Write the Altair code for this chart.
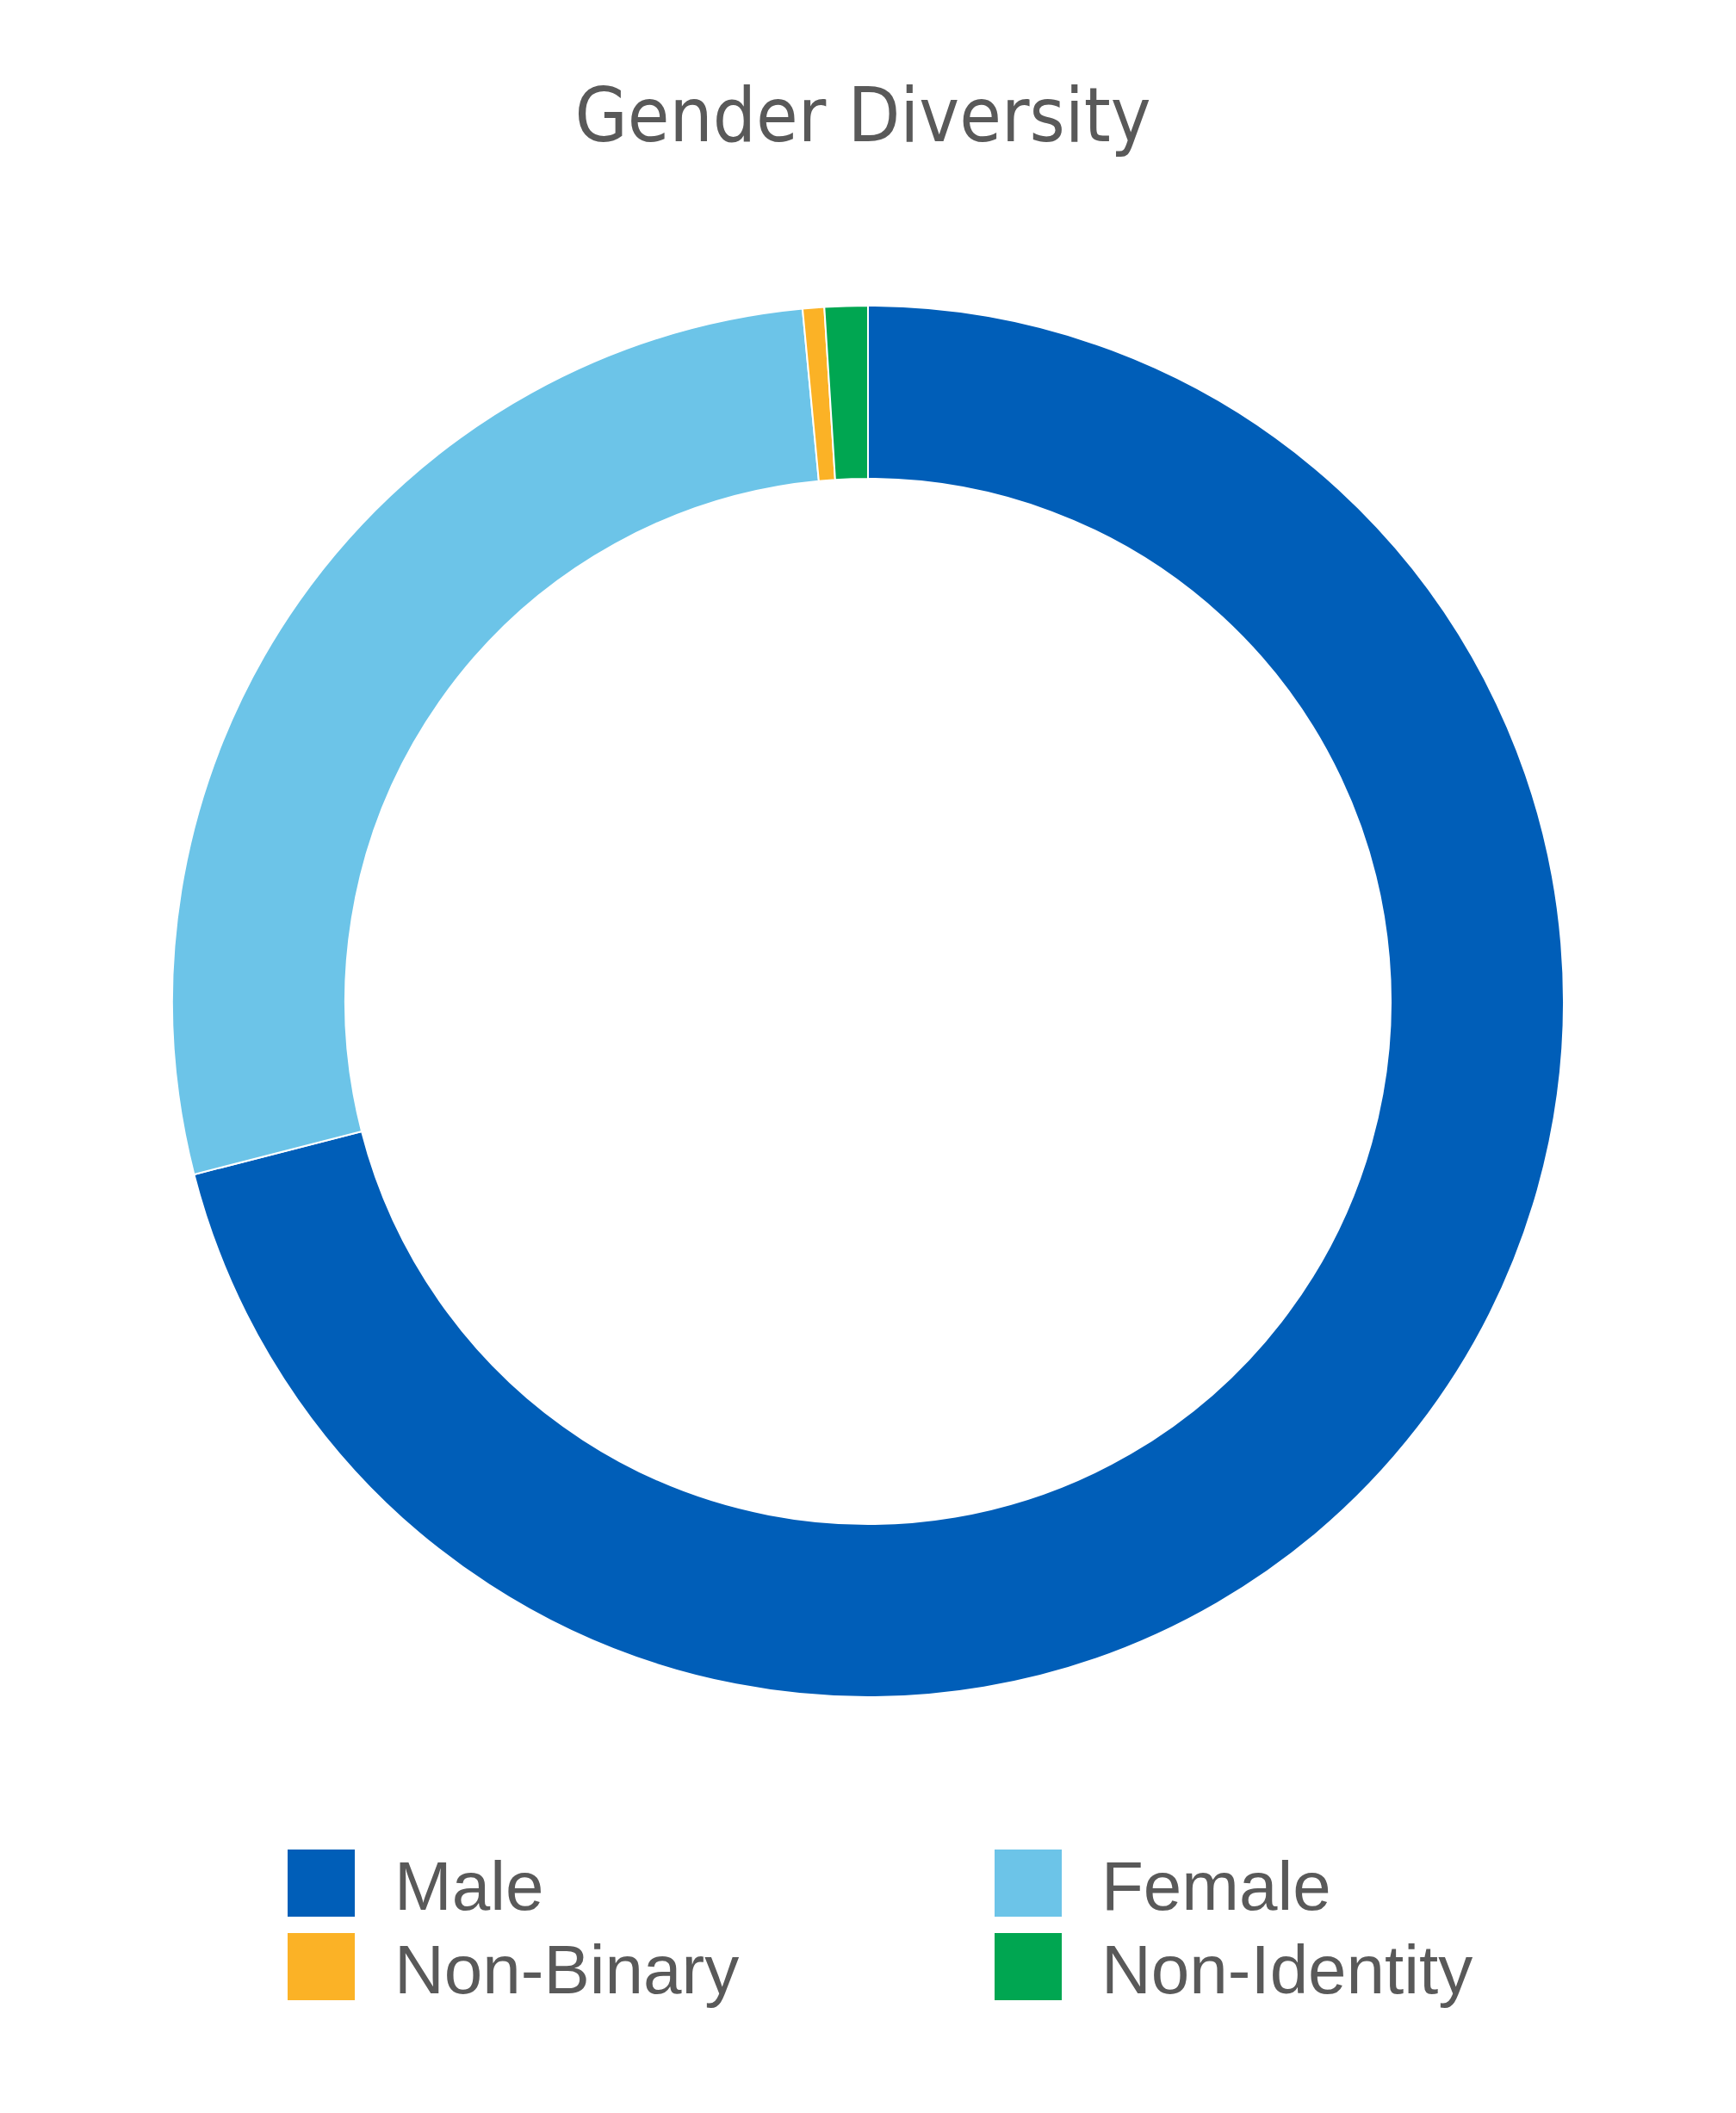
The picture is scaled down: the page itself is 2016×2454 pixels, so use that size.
import altair as alt
import pandas as pd

categories = ["Male", "Female", "Non-Binary", "Non-Identity"]
shares = [71.0, 27.5, 0.5, 1.0]
colors = ["#005EB8", "#6CC4E8", "#FBB226", "#00A651"]
title_text = "Gender Diversity"

df = pd.DataFrame({"gender": categories, "share": shares, "idx": list(range(len(categories)))})

W, H = 2000, 2438
CX, CY = 1000, 1155

arc = alt.Chart(df).mark_arc(
    outerRadius=808, innerRadius=607, stroke="white", strokeWidth=2,
    x=CX, y=CY
).encode(
    theta=alt.Theta("share:Q", stack=True),
    order=alt.Order("idx:Q"),
    color=alt.Color(
        "gender:N",
        scale=alt.Scale(domain=categories, range=colors),
        legend=alt.Legend(
            title=None, orient="none", legendX=325, legendY=2146,
            direction="horizontal", columns=2,
            symbolType="M-1,-1.18H1V0.82H-1Z",
            symbolSize=6084, symbolStrokeWidth=0, labelFontSize=80,
            labelFont="Liberation Sans", labelColor="#595959",
            labelOffset=45, columnPadding=295, rowPadding=10, padding=0,
            labelLimit=1000,
        ),
    ),
)

title = alt.Chart(pd.DataFrame({"t": [title_text]})).mark_text(
    font="Liberation Sans Narrow, DejaVu Sans Condensed, Roboto",
    fontSize=88, color="#595959", align="center", baseline="alphabetic",
).encode(x=alt.value(994), y=alt.value(156), text="t:N")

chart = alt.layer(arc, title).properties(
    width=W, height=H, autosize=alt.AutoSizeParams(type="none"), padding=0
).configure_view(stroke=None)

chart.save("out.html", embed_options={"renderer": "svg", "actions": False})
